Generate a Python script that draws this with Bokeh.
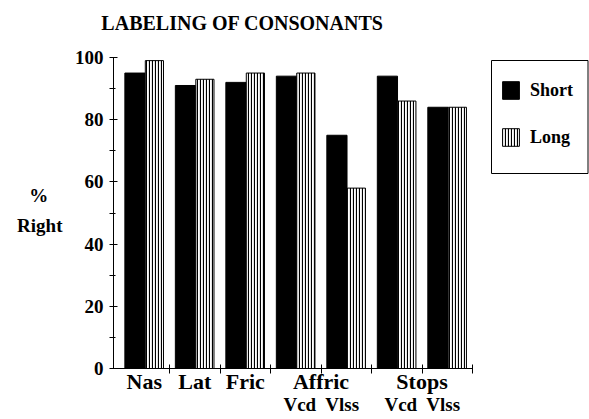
from bokeh.plotting import figure
from bokeh.models import (ColumnDataSource, Range1d, FixedTicker, Legend, LegendItem,
                          LinearAxis, BoxAnnotation)
from bokeh.embed import file_html
from bokeh.resources import INLINE

# ---- data ----
categories = ["Nas", "Lat", "Fric", "Affric Vcd", "Affric Vlss", "Stops Vcd", "Stops Vlss"]
short_vals = [95, 91, 92, 94, 75, 94, 84]
long_vals = [99, 93, 95, 95, 58, 86, 84]
group_labels = ["Nas", "Lat", "Fric", "Affric", "Stops"]
group_first = [0, 1, 2, 3, 5]
group_last = [0, 1, 2, 4, 6]
sub_labels = ["", "", "", "Vcd", "Vlss", "Vcd", "Vlss"]
y_ticks = [0, 20, 40, 60, 80, 100]
y_minor = [10, 30, 50, 70, 90]
title_text = "LABELING OF CONSONANTS"
y_label_lines = ["%", "Right"]

FONT = "Liberation Serif"

n = len(categories)
idx = list(range(n))

src = ColumnDataSource(dict(
    xs=[i + 0.315 for i in idx],
    xl=[i + 0.70 for i in idx],
    short=short_vals,
    long=long_vals,
))

# layout (pixel positions of the frame in the picture)
FL, FR, FT, FB, W, H = 113, 472, 57, 368, 589, 419
X0 = -0.11
ppu_x = (FR - FL) / (n - X0)
ppu_y = (FB - FT) / 100.0
x_end = n + (W - FR) / ppu_x


def px_to_x(px):
    return X0 + (px - FL) / ppu_x


def py_to_y(py):
    return (FB - py) / ppu_y


p = figure(width=W, height=H, output_backend="svg", toolbar_location=None,
           x_range=Range1d(X0, x_end), y_range=Range1d(0, 100),
           min_border_left=FL, min_border_right=0, min_border_top=FT,
           min_border_bottom=H - FB)
p.outline_line_color = None
p.xgrid.visible = False
p.ygrid.visible = False
p.background_fill_color = "white"
p.border_fill_color = "white"
p.title.visible = False

xa = p.xaxis[0]
ya = p.yaxis[0]

r_short = p.vbar(x="xs", top="short", width=0.40, bottom=0, source=src,
                 fill_color="black", line_color="black", line_width=1)
r_long = p.vbar(x="xl", top="long", width=0.36, bottom=0, source=src,
                fill_color="white", line_color="black", line_width=1,
                hatch_pattern="vertical_line", hatch_color="black",
                hatch_scale=3, hatch_weight=1.2)

# title as a label on an axis above the frame
tx = round(px_to_x(242), 3)
ta = LinearAxis(ticker=FixedTicker(ticks=[tx], minor_ticks=[]),
                major_label_overrides={tx: title_text},
                axis_line_color=None, major_tick_line_color=None,
                minor_tick_line_color=None, major_tick_in=0, major_tick_out=0,
                major_label_standoff=24,
                major_label_text_font=FONT, major_label_text_font_style="bold",
                major_label_text_font_size="20px", major_label_text_color="black")
p.add_layout(ta, "above")

# y axis
ya.ticker = FixedTicker(ticks=y_ticks, minor_ticks=y_minor)
ya.major_label_text_font = FONT
ya.major_label_text_font_style = "bold"
ya.major_label_text_font_size = "19px"
ya.major_label_text_color = "black"
ya.major_label_standoff = 6
ya.major_tick_in = 4
ya.major_tick_out = 4
ya.minor_tick_in = 2
ya.minor_tick_out = 4
ya.axis_line_color = "black"

# second left axis carrying the two-line y title
ylab_pos = [round(py_to_y(195), 2), round(py_to_y(225), 2)]
ya2 = LinearAxis(ticker=FixedTicker(ticks=ylab_pos, minor_ticks=[]),
                 major_label_overrides={ylab_pos[0]: y_label_lines[0] + "\u00a0\u00a0\u00a0",
                                        ylab_pos[1]: y_label_lines[1]},
                 axis_line_color=None, major_tick_line_color=None,
                 minor_tick_line_color=None, major_tick_in=0, major_tick_out=0,
                 major_label_standoff=9,
                 major_label_text_font=FONT, major_label_text_font_style="bold",
                 major_label_text_font_size="19px", major_label_text_color="black")
p.add_layout(ya2, "left")

# x axis: group labels, boundary ticks as minor ticks
group_x = [(a + b) / 2 + 0.5 for a, b in zip(group_first, group_last)]
xa.bounds = (X0, n)
xa.ticker = FixedTicker(ticks=group_x, minor_ticks=list(range(1, n + 1)))
xa.major_label_overrides = {gx: t for gx, t in zip(group_x, group_labels)}
xa.major_tick_line_color = None
xa.major_tick_in = 0
xa.major_tick_out = 0
xa.minor_tick_in = 4
xa.minor_tick_out = 5
xa.major_label_standoff = -5
xa.major_label_text_font = FONT
xa.major_label_text_font_style = "bold"
xa.major_label_text_font_size = "22px"
xa.major_label_text_color = "black"

# second bottom axis: sub labels
sub_x, sub_t = [], []
for i, s in enumerate(sub_labels):
    if s:
        sub_x.append(round(i + 0.5 + (0.08 if s == "Vcd" else -0.08), 2))
        sub_t.append(s)
xa2 = LinearAxis(ticker=FixedTicker(ticks=sub_x, minor_ticks=[]),
                 major_label_overrides={x: t for x, t in zip(sub_x, sub_t)},
                 axis_line_color=None, major_tick_line_color=None,
                 minor_tick_line_color=None, major_tick_in=0, major_tick_out=0,
                 major_label_standoff=-3,
                 major_label_text_font=FONT, major_label_text_font_style="bold",
                 major_label_text_font_size="19px", major_label_text_color="black")
p.add_layout(xa2, "below")

# legend frame
p.add_layout(BoxAnnotation(left=px_to_x(491), right=px_to_x(587.5),
                           top=py_to_y(60), bottom=py_to_y(173),
                           fill_color="white", fill_alpha=1.0,
                           line_color="black", line_width=1, line_alpha=1.0))

legend = Legend(items=[LegendItem(label="Short", renderers=[r_short]),
                       LegendItem(label="Long", renderers=[r_long])],
                location=(500 - FL, FB - 148), orientation="vertical",
                padding=0, spacing=25, glyph_width=21, glyph_height=22,
                label_standoff=9, label_height=22,
                label_text_font=FONT, label_text_font_style="bold",
                label_text_font_size="18px", label_text_color="black",
                border_line_color=None, background_fill_alpha=0.0,
                margin=0)
p.add_layout(legend, "center")

open("out.html", "w").write(file_html(p, INLINE))
